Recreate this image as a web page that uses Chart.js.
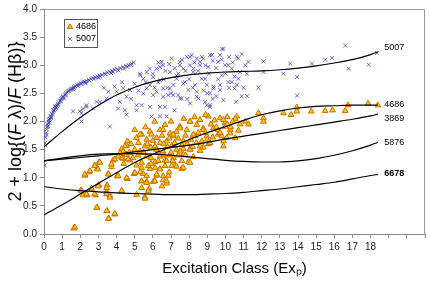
<!DOCTYPE html>
<html><head><meta charset="utf-8">
<script src="https://cdn.jsdelivr.net/npm/chart.js@4/dist/chart.umd.min.js"></script>
<style>html,body{margin:0;padding:0;background:#fff}</style>
</head><body>
<canvas id="c" width="430" height="282" style="width:430px;height:282px;display:block"></canvas>
<script>
// ---- data ----
const xTickLabels = [0,1,2,3,4,5,6,7,8,9,10,11,12,13,14,15,16,17,18];
const yTickLabels = ['0.0','0.5','1.0','1.5','2.0','2.5','3.0','3.5','4.0'];

const curveX = [0,1,2,3,4,5,6,7,8,9,10,11,12,13,14,15,16,17,18,18.4];
const c5007 = [1.55,1.82,2.07,2.29,2.47,2.61,2.71,2.78,2.83,2.86,2.88,2.89,2.90,2.92,2.95,2.99,3.04,3.10,3.19,3.24];
const c4686 = [0.34,0.52,0.71,0.90,1.09,1.27,1.42,1.55,1.68,1.80,1.91,2.02,2.12,2.19,2.24,2.27,2.28,2.29,2.29,2.29];
const c3869 = [1.30,1.33,1.36,1.39,1.42,1.46,1.50,1.54,1.58,1.63,1.69,1.74,1.79,1.84,1.89,1.94,1.99,2.04,2.10,2.13];
const c5876 = [1.30,1.35,1.39,1.42,1.43,1.43,1.42,1.40,1.37,1.34,1.31,1.29,1.28,1.28,1.30,1.34,1.40,1.48,1.58,1.63];
const c6678 = [0.84,0.80,0.77,0.75,0.73,0.72,0.71,0.70,0.70,0.71,0.72,0.74,0.77,0.80,0.84,0.88,0.92,0.98,1.04,1.06];

const curveNames = ['5007','4686','3869','5876','6678'];
const curveLabelY = [3.32,2.30,2.06,1.63,1.07];
const curveLabelX = 18.75;

const s5007 = [
[0.04,1.22],[0.10,1.57],[0.05,1.62],[0.08,1.72],[0.12,1.80],[0.15,1.86],[0.18,1.90],[0.20,1.95],[0.24,1.98],[0.28,2.02],[0.30,1.98],[0.32,2.05],[0.36,2.10],[0.40,2.08],[0.44,2.14],[0.50,2.17],[0.55,2.20],[0.60,2.22],[0.60,2.27],[0.65,2.26],[0.70,2.28],[0.76,2.30],[0.82,2.34],[0.88,2.36],[0.95,2.40],[1.00,2.42],[1.08,2.45],[1.10,2.41],[1.15,2.47],[1.22,2.50],[1.30,2.52],[1.38,2.55],[1.46,2.56],[1.55,2.59],[1.60,2.57],[1.64,2.60],[1.72,2.63],[1.82,2.65],[1.92,2.66],[2.02,2.68],[2.12,2.70],[2.22,2.71],[2.30,2.68],[2.34,2.72],[2.46,2.74],[2.58,2.76],[2.70,2.77],[2.82,2.79],[2.94,2.80],[3.00,2.78],[3.06,2.82],[3.20,2.83],[3.34,2.85],[3.48,2.87],[3.62,2.88],[3.70,2.86],[3.76,2.90],[3.90,2.92],[4.04,2.93],[4.20,2.95],[4.36,2.97],[4.40,2.94],[4.52,2.99],[4.68,3.00],[4.84,3.03],[4.95,3.05],
[0.14,1.76],[0.22,1.92],[0.26,2.04],[0.38,2.06],[0.46,2.12],[0.52,2.20],[0.68,2.24],[0.80,2.31],[0.92,2.37],[1.04,2.44],[1.20,2.48],[1.34,2.54],[1.50,2.58],[1.68,2.61],[1.86,2.63],[2.06,2.67],[2.26,2.70],[2.50,2.73],[2.76,2.76],[3.10,2.80],[3.40,2.84],[3.80,2.88],[4.10,2.91],[4.60,2.97],[4.78,3.01],
[1.60,2.18],[1.97,2.18],[2.15,2.23],[2.34,2.29],[2.07,2.15],[2.07,2.00],[2.34,2.26],[2.70,2.23],[2.90,2.35],[3.08,2.35],[3.45,2.41],[3.54,2.53],[3.63,1.91],[4.09,2.23],[4.00,2.53],[4.18,2.35],[4.36,2.59],[4.46,2.20],[4.55,2.12],[4.55,2.44],[4.74,2.56],[5.00,2.67],[5.10,2.29],[5.10,2.20],[5.38,2.29],[5.47,2.76],[5.29,2.85],[5.30,2.82],[5.47,2.50],[5.66,2.59],[5.66,2.88],[5.84,2.94],[5.84,2.65],[5.84,2.26],[5.93,2.09],[6.02,2.79],[6.02,2.47],[6.20,2.94],[6.21,2.53],[6.30,2.70],[6.39,2.97],[6.39,2.73],[6.39,2.26],[6.39,2.09],[6.49,3.06],[6.57,2.59],[6.57,3.00],[6.57,2.44],[6.67,2.26],[6.76,2.09],[6.85,2.47],[6.94,2.88],[6.94,2.59],[7.04,3.12],[7.13,2.65],[7.13,2.47],[7.30,2.82],[7.31,2.76],[7.40,2.47],[7.49,3.00],[7.50,3.06],[7.50,2.41],[7.59,2.41],[7.68,2.94],[7.68,2.67],[7.77,2.70],[7.87,3.15],[7.96,2.56],[8.05,3.00],[8.05,3.15],[8.05,2.32],[8.14,3.18],[8.23,2.88],[8.23,2.94],[8.33,2.65],[8.42,3.12],[8.42,2.53],[8.42,2.44],[8.51,2.41],[8.60,3.00],[8.60,3.06],[8.70,2.76],[8.78,3.12],[8.88,2.35],[8.88,2.76],[8.97,2.65],[8.97,2.29],[9.06,2.97],[9.15,2.29],[9.15,3.18],[9.15,2.26],[9.15,2.50],[9.25,3.18],[9.34,2.59],[9.34,2.62],[9.60,3.06],[9.70,3.18],[9.70,2.65],[9.70,2.56],[9.80,3.29],[9.80,2.82],[9.89,2.38],[9.89,3.29],[9.98,3.00],[10.16,2.70],[10.16,3.00],[10.20,3.15],[10.35,2.94],[10.35,2.70],[10.50,2.59],[10.63,3.15],[10.63,2.65],[10.70,3.12],[10.72,2.76],[10.80,2.88],[11.10,3.00],[11.18,2.85],[11.27,3.06],[11.82,2.60],[12.10,3.07],[12.10,2.88],[13.20,2.85],[13.57,3.03],[13.95,2.79],[13.95,2.46],[14.77,3.03],[15.50,3.10],[15.88,3.13],[16.60,3.35],[16.80,2.94],[17.90,3.01],[18.36,3.22],
[6.00,2.85],[6.30,3.05],[6.70,2.90],[6.90,3.02],[7.20,2.95],[7.40,2.85],[7.60,3.10],[7.80,2.90],[8.00,2.75],[8.30,3.05],[8.50,2.90],[8.70,3.15],[8.90,3.00],[9.10,2.85],[9.30,3.08],[9.50,2.95],[9.60,2.75],[9.80,3.10],[10.00,2.85],[10.20,2.60],[10.40,3.05],[10.50,2.80],[10.90,3.20],[11.00,2.60],[11.20,2.45],[9.50,2.45],[9.00,2.50],[7.90,2.40],[7.20,2.20],[6.80,2.60],[5.60,2.70],[5.20,2.55],[4.80,2.40],[4.30,2.70],[3.90,2.62],[3.30,2.60],[6.10,2.60],[6.60,2.75],[7.00,2.50],[8.20,2.60],[8.80,2.55],[10.90,2.45],[9.30,2.40],[10.60,2.35]
];

const s4686 = [
[1.64,0.10],[2.03,0.78],[2.15,0.69],[2.25,1.04],[2.38,0.69],[2.49,1.10],[2.62,0.81],[2.84,0.69],[2.80,1.22],[2.93,1.16],[2.93,0.47],[3.04,1.28],[3.02,0.87],[3.45,0.75],[3.48,0.87],[3.48,0.41],[3.54,1.07],[3.57,0.28],[3.63,0.69],[3.72,1.19],[3.81,1.31],[3.90,0.35],[4.03,1.03],[4.28,0.76],[4.28,1.51],[4.36,1.34],[4.46,1.42],[4.55,1.57],[4.60,0.98],[4.73,1.31],[4.96,1.07],[5.10,0.70],[5.10,1.22],[5.19,1.40],[5.38,0.94],[5.47,1.07],[5.56,0.66],[5.66,0.93],[5.80,0.81],[5.84,1.16],[5.88,1.54],[6.02,0.93],[6.12,1.28],[6.21,1.04],[6.30,1.45],[6.39,1.16],[6.57,0.96],[6.67,1.31],[6.76,0.90],[6.85,1.04],[6.94,1.40],[7.04,1.57],[7.22,1.22],[7.40,1.40],[7.59,1.16],[7.68,1.51],[7.96,1.28],[8.05,1.51],[8.23,1.37],[8.60,1.48],[8.78,1.54],[9.06,1.60],
[9.06,2.09],[8.05,2.00],[6.67,1.94],[7.49,1.91],[8.42,1.94],[9.98,1.97],[10.63,2.09],[9.70,2.06],[5.38,1.77],[5.84,1.82],[6.39,1.85],[6.94,1.79],[7.30,1.82],[7.87,1.85],[8.78,1.88],[9.34,1.88],[10.26,1.85],[5.66,1.68],[6.21,1.71],[6.76,1.65],[7.13,1.74],[7.68,1.65],[8.33,1.74],[8.97,1.74],[9.60,1.77],[10.07,1.71],[5.56,1.56],[6.12,1.56],[6.57,1.47],[7.49,1.47],[8.05,1.50],[8.60,1.56],[9.15,1.62],[9.89,1.56],[5.66,1.38],[6.39,1.38],[7.13,1.35],[7.68,1.41],[6.76,1.30],[7.59,1.30],[5.38,1.27],
[5.38,1.18],[5.75,1.21],[6.12,1.18],[6.39,1.15],[6.67,1.21],[7.03,1.21],[7.68,1.18],[8.05,1.27],[5.66,1.03],[6.21,1.06],[6.57,1.03],[5.38,0.94],[5.66,0.91],[6.11,0.94],[6.76,0.94],[5.38,0.82],[5.75,0.77],[5.56,0.63],
[1.70,0.12],[2.25,1.06],[2.53,1.12],[2.80,1.21],[2.98,1.15],[3.08,1.27],[3.72,1.24],[3.54,1.06],[4.09,1.03],[4.55,1.00],[5.01,1.09],[4.28,0.77],[3.45,0.82],[2.98,0.85],[2.07,0.77],[2.34,0.71],[2.80,0.71],[3.45,0.71],[3.63,0.65],[2.90,0.47],[3.45,0.41],[3.90,0.36],[3.54,0.27],
[11.82,2.15],[12.10,2.06],[12.10,2.00],[13.20,2.15],[13.62,2.12],[13.93,2.25],[13.93,2.18],[14.73,2.18],[15.50,2.19],[15.90,2.20],[16.60,2.19],[16.76,2.29],[17.86,2.32],[18.40,2.29],[9.89,2.03],[10.54,2.05],[11.09,2.00],[11.27,1.95],[10.72,1.84],[9.98,1.91],[9.60,1.85],[10.26,1.79],[9.80,1.74],[10.54,1.71],
[8.05,2.00],[8.60,2.03],[8.78,1.85],[8.23,1.77],[6.57,1.85],[5.93,1.77],[5.10,1.71],[5.29,1.77],[7.50,1.88],[7.13,1.77],[4.46,1.56],[4.55,1.41],[4.64,1.33],[4.28,1.35],[3.90,1.33],[4.37,1.47],[4.19,1.44],[5.29,1.47],
[4.80,1.60],[5.00,1.50],[5.20,1.62],[5.50,1.45],[5.70,1.60],[5.90,1.35],[6.00,1.66],[6.20,1.50],[6.40,1.62],[6.50,1.75],[6.60,1.60],[6.80,1.55],[6.90,1.70],[7.00,1.45],[7.20,1.62],[7.30,1.50],[7.40,1.70],[7.60,1.58],[7.80,1.75],[7.90,1.60],[8.10,1.68],[8.20,1.55],[8.40,1.62],[8.50,1.80],[8.70,1.65],[8.90,1.80],[9.00,1.68],[9.20,1.95],[9.30,1.72],[9.50,1.90],[9.70,1.80],[9.90,1.65],[10.10,1.95],[10.30,1.90],[10.40,2.00],[10.80,1.95],[5.90,1.25],[6.30,1.30],[6.60,1.40],[7.10,1.30],[7.30,1.20],[7.80,1.40],[4.90,1.35],[5.30,1.10],[6.90,1.10],[6.50,0.85],[4.70,1.45],[4.40,1.25],[4.10,1.38],[4.60,1.65],[5.00,1.85],[5.60,1.90],[6.10,2.00],[7.00,2.00],[7.70,2.05],[8.30,2.08],[8.90,2.12],[9.40,2.02],[10.10,2.08]
];

// ---- chart ----
const toXY = (xs, ys) => xs.map((x, i) => ({x: x, y: ys[i]}));
const toPts = arr => arr.map(p => ({x: p[0], y: p[1]}));
const FONT = '"Liberation Sans", Arial, sans-serif';
const BLUE = 'rgba(50,50,170,0.7)';
const TRI_FILL = '#ffcc00';
const TRI_EDGE = '#c86e00';

const curveSets = [c5007, c4686, c3869, c5876, c6678].map((ys, i) => ({
  type: 'line', label: curveNames[i], data: toXY(curveX, ys),
  borderColor: '#000', borderWidth: 1.2, pointRadius: 0, fill: false,
  cubicInterpolationMode: 'monotone', order: 0
}));

const plotBorder = {
  id: 'plotBorder',
  beforeDatasetsDraw(chart) {
    const {ctx, chartArea: a} = chart;
    ctx.save();
    ctx.strokeStyle = '#9a9a9a'; ctx.lineWidth = 1;
    ctx.beginPath();
    ctx.moveTo(a.left, a.top + 0.5); ctx.lineTo(a.right - 0.5, a.top + 0.5); ctx.lineTo(a.right - 0.5, a.bottom);
    ctx.stroke();
    ctx.restore();
  }
};

const extras = {
  id: 'extras',
  afterDraw(chart) {
    const {ctx, chartArea: a, scales: {x, y}} = chart;
    ctx.save();
    // curve labels
    ctx.fillStyle = '#000'; ctx.textBaseline = 'middle'; ctx.textAlign = 'left';
    curveNames.forEach((n, i) => {
      ctx.font = (n === '6678' ? 'bold ' : '') + '9px ' + FONT;
      ctx.fillText(n, x.getPixelForValue(curveLabelX), y.getPixelForValue(curveLabelY[i]));
    });
    // legend
    const lx = 64, ly = 19, lw = 33, lh = 28;
    ctx.fillStyle = '#fff'; ctx.fillRect(lx, ly, lw, lh);
    ctx.strokeStyle = '#555'; ctx.lineWidth = 1;
    ctx.strokeRect(lx + 0.5, ly + 0.5, lw, lh);
    ctx.fillStyle = TRI_FILL; ctx.strokeStyle = TRI_EDGE; ctx.lineWidth = 1;
    Chart.helpers.drawPoint(ctx, {pointStyle: 'triangle', radius: 3.2, rotation: 0, borderWidth: 1}, lx + 6, ly + 8);
    ctx.strokeStyle = BLUE; ctx.lineWidth = 1;
    Chart.helpers.drawPoint(ctx, {pointStyle: 'crossRot', radius: 2.8, rotation: 0, borderWidth: 1}, lx + 6, ly + 20);
    ctx.fillStyle = '#000'; ctx.font = '9px ' + FONT; ctx.textBaseline = 'middle'; ctx.textAlign = 'left';
    ctx.fillText('4686', lx + 12, ly + 8);
    ctx.fillText('5007', lx + 12, ly + 20);
    // y axis title with italic F
    const parts = [['2 + log{(', false], ['F', true], [' λ)/', false], ['F', true], [' (Hβ)}', false]];
    const fs = 18;
    let total = 0;
    parts.forEach(p => { ctx.font = (p[1] ? 'italic ' : '') + fs + 'px ' + FONT; total += ctx.measureText(p[0]).width; });
    ctx.translate(16, (a.top + a.bottom) / 2);
    ctx.rotate(-Math.PI / 2);
    ctx.textBaseline = 'middle';
    let cx = -total / 2;
    ctx.textAlign = 'left'; ctx.fillStyle = '#000';
    parts.forEach(p => { ctx.font = (p[1] ? 'italic ' : '') + fs + 'px ' + FONT; ctx.fillText(p[0], cx, 0); cx += ctx.measureText(p[0]).width; });
    ctx.restore();
  }
};

new Chart(document.getElementById('c'), {
  type: 'scatter',
  data: {
    datasets: curveSets.concat([
      {label: '4686', data: toPts(s4686), pointStyle: 'triangle', pointRadius: 3.3,
       backgroundColor: TRI_FILL, borderColor: TRI_EDGE, borderWidth: 1, order: 2},
      {label: '5007', data: toPts(s5007), pointStyle: 'crossRot', pointRadius: 2.8,
       backgroundColor: BLUE, borderColor: BLUE, borderWidth: 1, order: 3}
    ])
  },
  options: {
    responsive: false, animation: false, devicePixelRatio: 1,
    layout: {padding: {top: 6, right: 5, left: 0, bottom: 0}},
    plugins: {legend: {display: false}, tooltip: {enabled: false}},
    scales: {
      x: {
        type: 'linear', min: 0, max: 21,
        afterFit(s) { s.height = 48; },
        ticks: {stepSize: 1, autoSkip: false, maxRotation: 0, color: '#222', padding: 3,
          font: {size: 10, family: FONT},
          callback: v => xTickLabels.includes(v) ? String(v) : ''},
        grid: {drawOnChartArea: false, drawTicks: true, tickLength: 4, color: '#888'},
        border: {color: '#888', width: 1},
        title: {display: true, text: 'Excitation Class (Exₚ)', color: '#000',
          font: {size: 15, family: FONT}, padding: {top: 3}}
      },
      y: {
        type: 'linear', min: 0, max: 4,
        afterFit(s) { s.width = 44; },
        ticks: {stepSize: 0.5, color: '#222', padding: 3, font: {size: 10, family: FONT},
          callback: (v) => yTickLabels[Math.round(v * 2)]},
        grid: {drawOnChartArea: false, drawTicks: true, tickLength: 4, color: '#888'},
        border: {color: '#888', width: 1}
      }
    }
  },
  plugins: [plotBorder, extras]
});
</script>
</body></html>
